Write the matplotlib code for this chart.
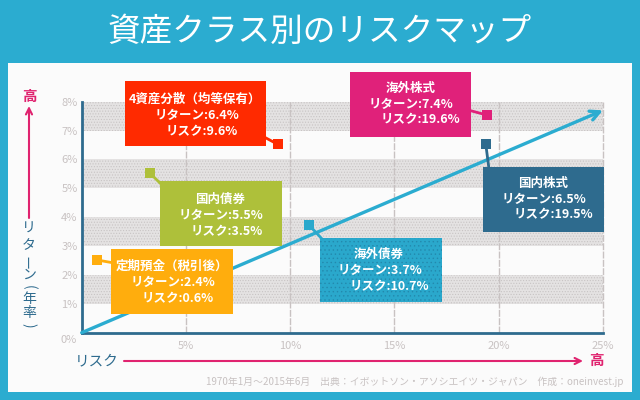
# %% Modules

import matplotlib.pyplot as plt
from matplotlib.patches import Rectangle

# %% Data

assets = [
    {"name": "4資産分散（均等保有）", "ret": "6.4", "risk": "9.6", "x": 9.41, "y": 6.52, "color": "#ff2a00", "hatch": None,
     "box": (124.5, 81, 266, 146), "lines": [(195, 99), (197, 115), (202, 132)], "tie": (266, 138)},
    {"name": "国内債券", "ret": "5.5", "risk": "3.5", "x": 3.28, "y": 5.52, "color": "#aec03a", "hatch": None,
     "box": (160, 181, 282, 246), "lines": [(220.5, 199), (221, 215), (227, 232)], "tie": (163, 186)},
    {"name": "定期預金（税引後）", "ret": "2.4", "risk": "0.6", "x": 0.73, "y": 2.52, "color": "#ffad0d", "hatch": None,
     "box": (111, 249, 233, 314), "lines": [(171.5, 266), (172.5, 282), (178, 299)], "tie": (114, 263)},
    {"name": "海外債券", "ret": "3.7", "risk": "10.7", "x": 10.9, "y": 3.73, "color": "#2aa8cc", "hatch": "....",
     "box": (320, 237.5, 442, 302), "lines": [(378.5, 254), (379.5, 270), (389, 287)], "tie": (323, 240)},
    {"name": "海外株式", "ret": "7.4", "risk": "19.6", "x": 19.42, "y": 7.54, "color": "#e0217a", "hatch": None,
     "box": (349.5, 72, 471, 137), "lines": [(411, 88), (411, 104), (420, 120)], "tie": (468, 110)},
    {"name": "国内株式", "ret": "6.5", "risk": "19.5", "x": 19.38, "y": 6.52, "color": "#2e6b8e", "hatch": None,
     "box": (482.5, 166.5, 604, 231.5), "lines": [(543, 183), (543.5, 199), (553, 215)], "tie": (489, 169)},
]

# %% Plot setup

plt.rcParams["font.family"] = ["Noto Sans CJK JP", "DejaVu Sans"]
plt.rcParams["hatch.linewidth"] = 0.5

back_color = "#2bacd0"
navy_color = "#2e6b8e"
arrow_color = "#e0236f"
soft_color = "#c8c2c2"
ticks_size = 8

fig = plt.figure(figsize = (6.4, 4), dpi = 100, facecolor = back_color)

# White panel behind the chart

fig.add_artist(Rectangle((8 / 640, 1 - 392 / 400), 624 / 640, 329 / 400, transform = fig.transFigure, facecolor = "#fbfbfb", edgecolor = "none"))

ax1 = fig.add_axes([81.7 / 640, 1 - 332.7 / 400, 521.3 / 640, 231 / 400], zorder = 1)
ax1.patch.set_visible(False)
ax1.set_xlim(0, 25)
ax1.set_ylim(0, 8)

# Bands and grid

for low in [1, 3, 5, 7]:
    ax1.axhspan(low, low + 1, facecolor = "#e4e2e2", edgecolor = "#c8c4c4", hatch = "......", linewidth = 0, zorder = 1)

for risk in [5, 10, 15, 20, 25]:
    ax1.axvline(risk, color = soft_color, linewidth = 1, linestyle = (0, (5, 1)), zorder = 2, clip_on = False)

# Market line and assets

ax1.annotate("", xy = (25, 7.7), xytext = (0, 0), zorder = 3,
             arrowprops = dict(arrowstyle = "->", color = back_color, linewidth = 2.4, shrinkA = 0, shrinkB = 0, mutation_scale = 17))

for asset in assets:
    ax1.scatter(asset["x"], asset["y"], marker = "s", s = 50, color = asset["color"], linewidth = 0, zorder = 4, clip_on = False)

ax1.set_xticks([5, 10, 15, 20, 25])
ax1.set_xticklabels(["5%", "10%", "15%", "20%", "25%"])
ax1.set_yticks(range(1, 9))
ax1.set_yticklabels([f"{value}%" for value in range(1, 9)])
ax1.tick_params(axis = "both", length = 0, labelsize = ticks_size, labelcolor = soft_color)
ax1.tick_params(axis = "x", pad = 6)
ax1.tick_params(axis = "y", pad = 3)

for side in ["top", "right"]:
    ax1.spines[side].set_visible(False)

for side in ["left", "bottom"]:
    ax1.spines[side].set_color(navy_color)
    ax1.spines[side].set_linewidth(2)

# Overlay in picture pixels for boxes and captions

ax2 = fig.add_axes([0, 0, 1, 1], zorder = 2)
ax2.set_xlim(0, 640)
ax2.set_ylim(400, 0)
ax2.axis("off")

for asset in assets:
    left, top, right, bottom = asset["box"]
    ax2.add_patch(Rectangle((left, top), right - left, bottom - top, facecolor = asset["color"], edgecolor = "none", zorder = 2))

    if asset["hatch"]:
        ax2.add_patch(Rectangle((left, top), right - left, bottom - top, facecolor = "none", edgecolor = "#2389ad", hatch = asset["hatch"], linewidth = 0, zorder = 2))

    mark_x, mark_y = ax2.transData.inverted().transform(ax1.transData.transform((asset["x"], asset["y"])))
    ax2.plot([mark_x, asset["tie"][0]], [mark_y, asset["tie"][1]], color = asset["color"], linewidth = 2, zorder = 1)

    texts = [asset["name"], f"リターン:{asset['ret']}%", f"リスク:{asset['risk']}%"]

    for text, (text_x, text_y) in zip(texts, asset["lines"]):
        ax2.text(text_x, text_y, text, color = "white", fontsize = 9, fontweight = "bold", ha = "center", va = "center", zorder = 3)

# Title and axis captions

ax2.text(320, 32, "資産クラス別のリスクマップ", color = "white", fontsize = 23.5, ha = "center", va = "center")
ax2.text(69, 340, "0%", color = soft_color, fontsize = ticks_size, ha = "center", va = "center")

ax2.annotate("", xy = (29, 106), xytext = (29, 218), arrowprops = dict(arrowstyle = "->", color = arrow_color, linewidth = 1.5, shrinkA = 0, shrinkB = 0, mutation_scale = 11))
ax2.annotate("", xy = (583, 361), xytext = (124, 361), arrowprops = dict(arrowstyle = "->", color = arrow_color, linewidth = 1.5, shrinkA = 0, shrinkB = 0, mutation_scale = 11))
ax2.text(29, 96, "高", color = arrow_color, fontsize = 10.5, fontweight = "bold", ha = "center", va = "center")
ax2.text(596, 360, "高", color = arrow_color, fontsize = 10.5, fontweight = "bold", ha = "center", va = "center")
ax2.text(97, 361, "リスク", color = navy_color, fontsize = 10.5, ha = "center", va = "center")

# Vertical caption, one sign at a time

signs = [("リ", 229, 0), ("タ", 245, 0), ("ー", 261, 90), ("ン", 275, 0), ("(", 287, -90), ("年", 299, 0), ("率", 313, 0), (")", 325, -90)]

for sign, sign_y, angle in signs:
    ax2.text(29, sign_y, sign, color = navy_color, fontsize = 10, rotation = angle, ha = "center", va = "center")

ax2.text(415, 382, "1970年1月～2015年6月　出典：イボットソン・アソシエイツ・ジャパン　作成：oneinvest.jp", color = soft_color, fontsize = 7.1, ha = "center", va = "center")

# %% Save data

plt.savefig("out.png", dpi = 100)
